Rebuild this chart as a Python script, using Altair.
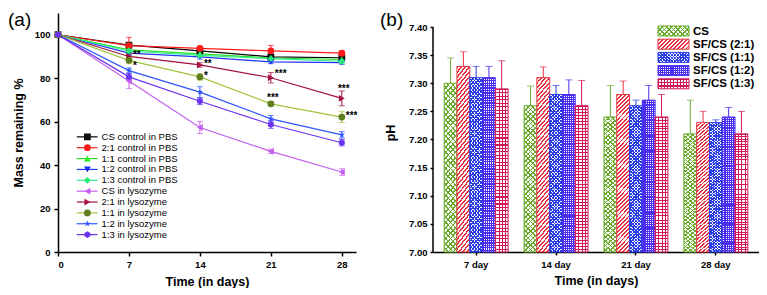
import altair as alt
import pandas as pd

FONT = "Liberation Sans"

# ---------------- Panel (a) data ----------------
days = [0, 7, 14, 21, 28]
series_a = ["CS  control in PBS", "2:1 control in PBS", "1:1 control in PBS",
            "1:2 control in PBS", "1:3 control in PBS", "CS in lysozyme",
            "2:1 in  lysozyme", "1:1 in  lysozyme", "1:2 in  lysozyme",
            "1:3  in   lysozyme"]
mass = [
    [100, 95.2, 92.6, 89.8, 89.4],
    [100, 95.0, 93.7, 92.6, 91.5],
    [100, 93.0, 91.2, 89.3, 88.6],
    [100, 91.5, 89.8, 87.5, 87.2],
    [100, 92.5, 90.5, 89.0, 87.8],
    [100, 78.7, 57.3, 46.3, 36.8],
    [100, 90.0, 86.1, 80.2, 70.7],
    [100, 88.2, 80.6, 68.2, 62.1],
    [100, 83.5, 73.6, 61.3, 53.9],
    [100, 80.6, 69.4, 58.7, 50.3],
]
mass_err = [
    [0, 1.0, 1.0, 1.0, 0.8],
    [0, 3.8, 1.0, 2.5, 1.0],
    [0, 1.0, 0.8, 0.8, 0.8],
    [0, 1.0, 1.0, 0.8, 0.8],
    [0, 1.0, 0.8, 0.8, 0.8],
    [0, 3.5, 2.8, 1.0, 1.5],
    [0, 1.0, 1.0, 2.4, 3.4],
    [0, 1.5, 1.5, 1.0, 2.5],
    [0, 1.2, 2.5, 1.5, 1.5],
    [0, 1.5, 1.5, 1.8, 1.5],
]
# significance marks: beside the marker / above the marker
side_text = ["**", "*", "**", "*", "***", "***"]
side_day = [7, 7, 14, 14, 21, 28]
side_val = [92.0, 86.8, 88.0, 82.6, 83.5, 64.2]
above_text = ["***", "***"]
above_day = [21, 28]
above_val = [72.3, 76.6]

# ---------------- Panel (b) data ----------------
groups = ["7 day", "14 day", "21 day", "28 day"]
series_b = ["CS", "SF/CS (2:1)", "SF/CS (1:1)", "SF/CS (1:2)", "SF/CS (1:3)"]
ph = [
    [7.30, 7.26, 7.24, 7.21],
    [7.33, 7.31, 7.28, 7.23],
    [7.31, 7.28, 7.26, 7.23],
    [7.31, 7.28, 7.27, 7.24],
    [7.29, 7.26, 7.24, 7.21],
]
ph_err = [
    [0.045, 0.035, 0.056, 0.06],
    [0.026, 0.019, 0.024, 0.02],
    [0.02, 0.016, 0.01, 0.005],
    [0.02, 0.026, 0.026, 0.017],
    [0.05, 0.045, 0.04, 0.04],
]
ph_ticks = [7.0, 7.05, 7.1, 7.15, 7.2, 7.25, 7.3, 7.35, 7.4]

# ---------------- styles ----------------
line_colors = ["#000000", "#ff1a1a", "#22dd22", "#2233ff", "#33ee88",
               "#c45ef0", "#a3123e", "#9ec43a", "#2f55ff", "#6b35f0"]
marker_colors = ["#111111", "#ff1a1a", "#22ee22", "#1a2aff", "#22ee77",
                 "#c45ef0", "#a3123e", "#5e7d1e", "#2f55ff", "#6b35f0"]
STAR = ("M0,-1L0.2245,-0.309L0.951,-0.309L0.363,0.118L0.588,0.809L0,0.382"
        "L-0.588,0.809L-0.363,0.118L-0.951,-0.309L-0.2245,-0.309Z")
HEX = "M0,-1L0.866,-0.5L0.866,0.5L0,1L-0.866,0.5L-0.866,-0.5Z"
shapes = ["square", "circle", "triangle-up", "triangle-down", "diamond",
          "triangle-left", "triangle-right", "circle", STAR, HEX]

bar_colors = ["#6aab2e", "#e8323f", "#2b3fe6", "#4a2ff0", "#d0175a"]
bar_patterns = [
    [("/", 3.4, 0.32), ("\\", 3.4, 0.32)],
    [("/", 2.8, 0.45)],
    [("/", 2.3, 0.45), ("\\", 2.3, 0.45)],
    [("v", 2.1, 0.55), ("h", 2.1, 0.55)],
    [("v", 3.2, 0.32), ("h", 3.2, 0.32)],
]

H = 239            # both panels share the same plot height (tops aligned)
WA = 298
WB = 326
B_OFF = 14         # pixels between panel (b) top and its 7.40 line
B_PLOT = H - B_OFF
ph_top = 7.4 + 0.4 * B_OFF / B_PLOT

# ---------------- build tables ----------------
rows = []
for s, vals, errs in zip(series_a, mass, mass_err):
    for d, v, e in zip(days, vals, errs):
        rows.append({"series": s, "day": d, "mass": v, "err": e,
                     "lo": v - e, "hi": v + e})
df_a = pd.DataFrame(rows)

rows = []
for s, vals, errs in zip(series_b, ph, ph_err):
    for g, v, e in zip(groups, vals, errs):
        rows.append({"sample": s, "day": g, "ph": v, "top": v + e})
df_b = pd.DataFrame(rows)


def xA(field):
    return alt.X(f"{field}:Q", scale=alt.Scale(domain=[0, 29.4], nice=False),
                 axis=alt.Axis(values=days, title="Time (in days)", tickSize=4,
                               labelPadding=3, titlePadding=7))


def yA(field):
    return alt.Y(f"{field}:Q", scale=alt.Scale(domain=[0, 110], nice=False),
                 axis=alt.Axis(values=[0, 20, 40, 60, 80, 100],
                               title="Mass remaining %", tickSize=4,
                               labelPadding=4, titlePadding=9))


color_a = alt.Color("series:N", scale=alt.Scale(domain=series_a, range=line_colors), legend=None)
fill_a = alt.Fill("series:N", scale=alt.Scale(domain=series_a, range=marker_colors), legend=None)
shape_a = alt.Shape("series:N", scale=alt.Scale(domain=series_a, range=shapes), legend=None)

base_a = alt.Chart(df_a)
lines = base_a.mark_line(strokeWidth=1.2).encode(x=xA("day"), y=yA("mass"), color=color_a)
err_a = base_a.transform_filter("datum.err > 0").mark_rule(strokeWidth=1).encode(
    x=xA("day"), y=yA("lo"), y2="hi:Q", color=color_a)
caps_a = base_a.transform_filter("datum.err > 0").transform_fold(
    ["lo", "hi"], as_=["k", "v"]).mark_tick(orient="horizontal", size=6, thickness=1).encode(
    x=xA("day"), y=yA("v"), color=color_a)
pts_a = base_a.mark_point(filled=True, size=46, opacity=1, strokeWidth=0).encode(
    x=xA("day"), y=yA("mass"), fill=fill_a, shape=shape_a)

side_df = pd.DataFrame({"t": side_text, "day": side_day, "v": side_val})
above_df = pd.DataFrame({"t": above_text, "day": above_day, "v": above_val})
stars_side = alt.Chart(side_df).mark_text(align="left", baseline="middle", dx=4, dy=3,
                                          fontSize=10, fontWeight="bold", font=FONT,
                                          color="black").encode(
    x=xA("day"), y=yA("v"), text="t:N")
stars_above = alt.Chart(above_df).mark_text(align="center", baseline="middle", dx=2, dy=3,
                                            fontSize=10, fontWeight="bold", font=FONT,
                                            color="black").encode(
    x=xA("day"), y=yA("v"), text="t:N")

leg_df = pd.DataFrame({"series": series_a, "idx": list(range(len(series_a)))})
leg_base = alt.Chart(leg_df).transform_calculate(ly="53 - 5 * datum.idx")
leg_line = leg_base.mark_rule(strokeWidth=1.2).encode(
    x=alt.datum(1.85), x2=alt.datum(3.9), y=yA("ly"), color=color_a)
leg_pts = leg_base.mark_point(filled=True, size=46, opacity=1, strokeWidth=0).encode(
    x=alt.datum(2.9), y=yA("ly"), fill=fill_a, shape=shape_a)
leg_txt = leg_base.mark_text(align="left", baseline="middle", fontSize=9.5, font=FONT,
                             color="black").encode(x=alt.datum(4.3), y=yA("ly"), text="series:N")

lab_a = alt.Chart(pd.DataFrame({"t": ["(a)"]})).mark_text(
    align="left", baseline="top", fontSize=19, font=FONT, color="black").encode(
    x=alt.value(-50), y=alt.value(-2), text="t:N")

panel_a = alt.layer(lines, err_a, caps_a, pts_a, stars_side, stars_above,
                    leg_line, leg_pts, leg_txt, lab_a).properties(width=WA, height=H)


# ---------------- panel (b) ----------------
def stripe_fill(kind, color, period, duty, w, h):
    if kind == "v":
        n = max(1, round(w / period)); vec = (0, 0, 1, 0)
    elif kind == "h":
        n = max(1, round(h / period)); vec = (0, 0, 0, 1)
    else:
        p, q = w / h, 1.0
        s = (p + q) / (p * p + q * q)
        n = max(1, round((w + h) / 1.4142 / period))
        vec = (0, 0, p * s, q * s) if kind == "/" else (1, 0, 1 - p * s, q * s)
    clear = "rgba(255,255,255,0)"
    stops = []
    for i in range(n):
        a, b, c = i / n, (i + duty) / n, (i + 1) / n
        stops += [{"offset": round(a, 4), "color": color},
                  {"offset": round(b, 4), "color": color},
                  {"offset": round(b, 4), "color": clear},
                  {"offset": round(c, 4), "color": clear}]
    return {"gradient": "linear", "x1": vec[0], "y1": vec[1], "x2": vec[2],
            "y2": vec[3], "stops": stops}


xB = alt.X("day:N", sort=groups,
           scale=alt.Scale(domain=groups, paddingInner=0.2, paddingOuter=0.14),
           axis=alt.Axis(title="Time (in days)", labelAngle=0, tickSize=3,
                         labelPadding=4, titlePadding=6))
xoB = alt.XOffset("sample:N", scale=alt.Scale(domain=series_b, paddingInner=0, paddingOuter=0))


def yB(field):
    return alt.Y(f"{field}:Q", scale=alt.Scale(domain=[7.0, ph_top], nice=False, zero=False),
                 axis=alt.Axis(values=ph_ticks, format=".2f", title="pH", tickSize=3,
                               labelPadding=3, titlePadding=11, domain=False))


color_b = alt.Color("sample:N", scale=alt.Scale(domain=series_b, range=bar_colors), legend=None)

bar_w = WB / (len(groups) - 0.2 + 0.28) * 0.8 / len(series_b)
layers_b = []
legend_b = []
for i, s in enumerate(series_b):
    col = bar_colors[i]
    sub = alt.Chart(df_b).transform_filter(alt.datum.sample == s)
    layers_b.append(sub.mark_bar(fill="white", strokeOpacity=0).encode(
        x=xB, xOffset=xoB, y=yB("ph"), y2=alt.datum(7.0)))
    for (kind, per, duty) in bar_patterns[i]:
        layers_b.append(sub.mark_bar(fill=stripe_fill(kind, col, per, duty, bar_w, 150),
                                     strokeOpacity=0).encode(
            x=xB, xOffset=xoB, y=yB("ph"), y2=alt.datum(7.0)))
    layers_b.append(sub.mark_bar(fillOpacity=0, stroke=col, strokeWidth=1).encode(
        x=xB, xOffset=xoB, y=yB("ph"), y2=alt.datum(7.0)))

    # legend row
    one = alt.Chart(pd.DataFrame({"sample": [s]}))
    y0 = B_OFF + 4 + 13.2 * i - 5
    X0 = WB - 101
    pos = dict(x=alt.value(X0), x2=alt.value(X0 + 31), y=alt.value(y0), y2=alt.value(y0 + 10))
    legend_b.append(one.mark_rect(fill="white").encode(**pos))
    for (kind, per, duty) in bar_patterns[i]:
        legend_b.append(one.mark_rect(fill=stripe_fill(kind, col, per, duty, 31, 10)).encode(**pos))
    legend_b.append(one.mark_rect(fillOpacity=0, stroke=col, strokeWidth=1).encode(**pos))
    legend_b.append(one.mark_text(align="left", baseline="middle", fontSize=11.5,
                                  fontWeight="bold", font=FONT, color="black").encode(
        x=alt.value(X0 + 35), y=alt.value(y0 + 5.5), text="sample:N"))

err_b = alt.Chart(df_b).mark_rule(strokeWidth=1).encode(
    x=xB, xOffset=xoB, y=yB("ph"), y2="top:Q", color=color_b)
cap_b = alt.Chart(df_b).mark_tick(orient="horizontal", size=7, thickness=1).encode(
    x=xB, xOffset=xoB, y=yB("top"), color=color_b)

# y axis line of panel (b), from 7.00 to 7.40 only
axis_line_b = alt.Chart(pd.DataFrame({"lo": [ph_ticks[0]], "hi": [ph_ticks[-1]]})).mark_rule(
    color="black", strokeWidth=1.5).encode(x=alt.value(0), y=yB("lo"), y2="hi:Q")

lab_b = alt.Chart(pd.DataFrame({"t": ["(b)"]})).mark_text(
    align="left", baseline="top", fontSize=19, font=FONT, color="black").encode(
    x=alt.value(-53), y=alt.value(-2), text="t:N")

panel_b = alt.layer(*layers_b, err_b, cap_b, axis_line_b, *legend_b, lab_b).properties(
    width=WB, height=H)

chart = alt.hconcat(panel_a, panel_b, spacing=22).resolve_scale(
    color="independent", fill="independent", shape="independent"
).properties(padding={"top": 3, "left": 0, "right": 0, "bottom": 0}).configure(
    font=FONT).configure_view(stroke=None).configure_axis(
    domainColor="black", domainWidth=1.5, tickColor="black", tickWidth=1.5,
    labelColor="black", titleColor="black", labelFont=FONT, titleFont=FONT,
    labelFontWeight="bold", titleFontWeight="bold", labelFontSize=9.5,
    titleFontSize=12.5, grid=False)

chart.save("out.html", embed_options={"renderer": "svg", "actions": False})
